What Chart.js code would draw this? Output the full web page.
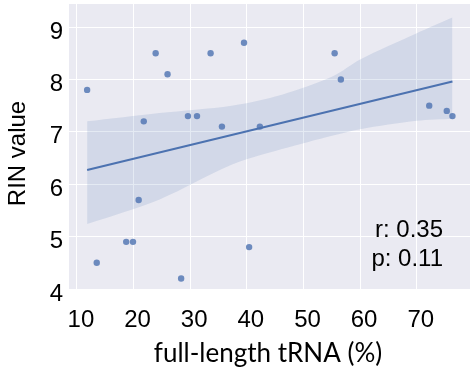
<!DOCTYPE html>
<html>
<head>
<meta charset="utf-8">
<script src="https://cdn.jsdelivr.net/npm/chart.js@4.4.0/dist/chart.umd.min.js"></script>
<style>
  html, body { margin: 0; padding: 0; background: #fff; }
</style>
</head>
<body>
<canvas id="myChart" width="470" height="375"></canvas>
<script>
// scatter values
const tRNA = [11.8, 13.5, 18.7, 19.9, 20.9, 21.8, 23.9, 26.0, 28.4, 29.6, 31.2, 33.6, 35.6, 39.5, 40.4, 42.3, 55.5, 56.6, 72.2, 75.3, 76.3];
const rin = [7.8, 4.5, 4.9, 4.9, 5.7, 7.2, 8.5, 8.1, 4.2, 7.3, 7.3, 8.5, 7.1, 8.7, 4.8, 7.1, 8.5, 8.0, 7.5, 7.4, 7.3];

// regression line and its confidence band
const fitX = [11.8, 76.3];
const fitY = [6.27, 7.96];
const bandX = [11.8, 24.6, 37.3, 46.2, 55.2, 60, 70, 76.3];
const bandUpper = [7.2, 7.36, 7.5, 7.71, 8.06, 8.38, 8.88, 9.18];
const bandLower = [5.24, 5.71, 6.37, 6.67, 6.93, 7.05, 7.21, 7.25];

const xTicks = [10, 20, 30, 40, 50, 60, 70];
const yTicks = [4, 5, 6, 7, 8, 9];
const statLines = ["r: 0.35", "p: 0.11"];
const xTitle = "full-length tRNA (%)";
const yTitle = "RIN value";

const blue = "#4C72B0";

function pts(xs, ys) {
    return xs.map((x, i) => ({ x: x, y: ys[i] }));
}

function noPad(axis) {
    axis.paddingTop = 0;
    axis.paddingBottom = 0;
    axis.paddingLeft = 0;
    axis.paddingRight = 0;
}

Chart.defaults.font.family = "'Liberation Sans', Arial, sans-serif";
Chart.defaults.color = "#000";

const bgPlugin = {
    id: "bg",
    beforeDraw(chart) {
        const a = chart.chartArea;
        const ctx = chart.ctx;
        ctx.save();
        ctx.fillStyle = "#EAEAF2";
        ctx.fillRect(a.left, a.top, a.right - a.left, a.bottom - a.top);
        ctx.restore();
    },
    afterDraw(chart) {
        const ctx = chart.ctx;
        ctx.save();
        ctx.fillStyle = "#000";
        // x title
        ctx.font = "26px Lato, 'Open Sans', sans-serif";
        ctx.textAlign = "center";
        ctx.textBaseline = "alphabetic";
        ctx.fillText(xTitle, 268, 362);
        // y title
        ctx.font = "24px 'Liberation Sans', Arial, sans-serif";
        ctx.translate(25, 153.5);
        ctx.rotate(-Math.PI / 2);
        ctx.fillText(yTitle, 0, 0);
        ctx.restore();
        // r / p text
        ctx.save();
        ctx.fillStyle = "#000";
        ctx.font = "24px 'Liberation Sans', Arial, sans-serif";
        ctx.textAlign = "right";
        ctx.textBaseline = "alphabetic";
        ctx.fillText(statLines[0], 443, 237);
        ctx.fillText(statLines[1], 443, 266);
        ctx.restore();
    }
};

const Mychart = document.getElementById("myChart");

new Chart(Mychart, {
    type: "scatter",
    data: {
        datasets: [
            {
                label: "samples",
                data: pts(tRNA, rin),
                backgroundColor: "rgba(76,114,176,0.8)",
                borderWidth: 0,
                pointRadius: 3.2,
            },
            {
                type: "line",
                label: "fit",
                data: pts(fitX, fitY),
                borderColor: blue,
                borderWidth: 2,
                pointRadius: 0,
                fill: false,
            },
            {
                type: "line",
                label: "upper",
                data: pts(bandX, bandUpper),
                borderWidth: 0,
                borderColor: "rgba(0,0,0,0)",
                pointRadius: 0,
                tension: 0.3,
                fill: false,
            },
            {
                type: "line",
                label: "lower",
                data: pts(bandX, bandLower),
                borderWidth: 0,
                borderColor: "rgba(0,0,0,0)",
                backgroundColor: "rgba(76,114,176,0.15)",
                pointRadius: 0,
                tension: 0.3,
                fill: "-1",
            },
        ],
    },
    options: {
        responsive: false,
        animation: false,
        devicePixelRatio: 1,
        layout: { autoPadding: false, padding: { top: 4, right: 0, left: 0, bottom: 0 } },
        plugins: {
            legend: { display: false },
            tooltip: { enabled: false },
        },
        scales: {
            x: {
                type: "linear",
                min: 8.6,
                max: 79.4,
                afterBuildTicks: (axis) => {
                    axis.ticks = xTicks.map((v) => ({ value: v }));
                },
                afterFit: (axis) => {
                    axis.height = 86;
                    noPad(axis);
                },
                grid: { color: "#fff", lineWidth: 1, drawTicks: false },
                border: { display: false },
                ticks: {
                    font: { size: 24 },
                    padding: 17,
                    labelOffset: 4,
                    maxRotation: 0,
                    autoSkip: false,
                },
            },
            y: {
                type: "linear",
                min: 4,
                max: 9.44,
                afterBuildTicks: (axis) => {
                    axis.ticks = yTicks.map((v) => ({ value: v }));
                },
                afterFit: (axis) => {
                    axis.width = 69;
                    noPad(axis);
                },
                grid: { color: "#fff", lineWidth: 1, drawTicks: false },
                border: { display: false },
                ticks: {
                    font: { size: 24 },
                    padding: 6,
                    labelOffset: 5,
                },
            },
        },
    },
    plugins: [bgPlugin],
});
</script>
</body>
</html>
